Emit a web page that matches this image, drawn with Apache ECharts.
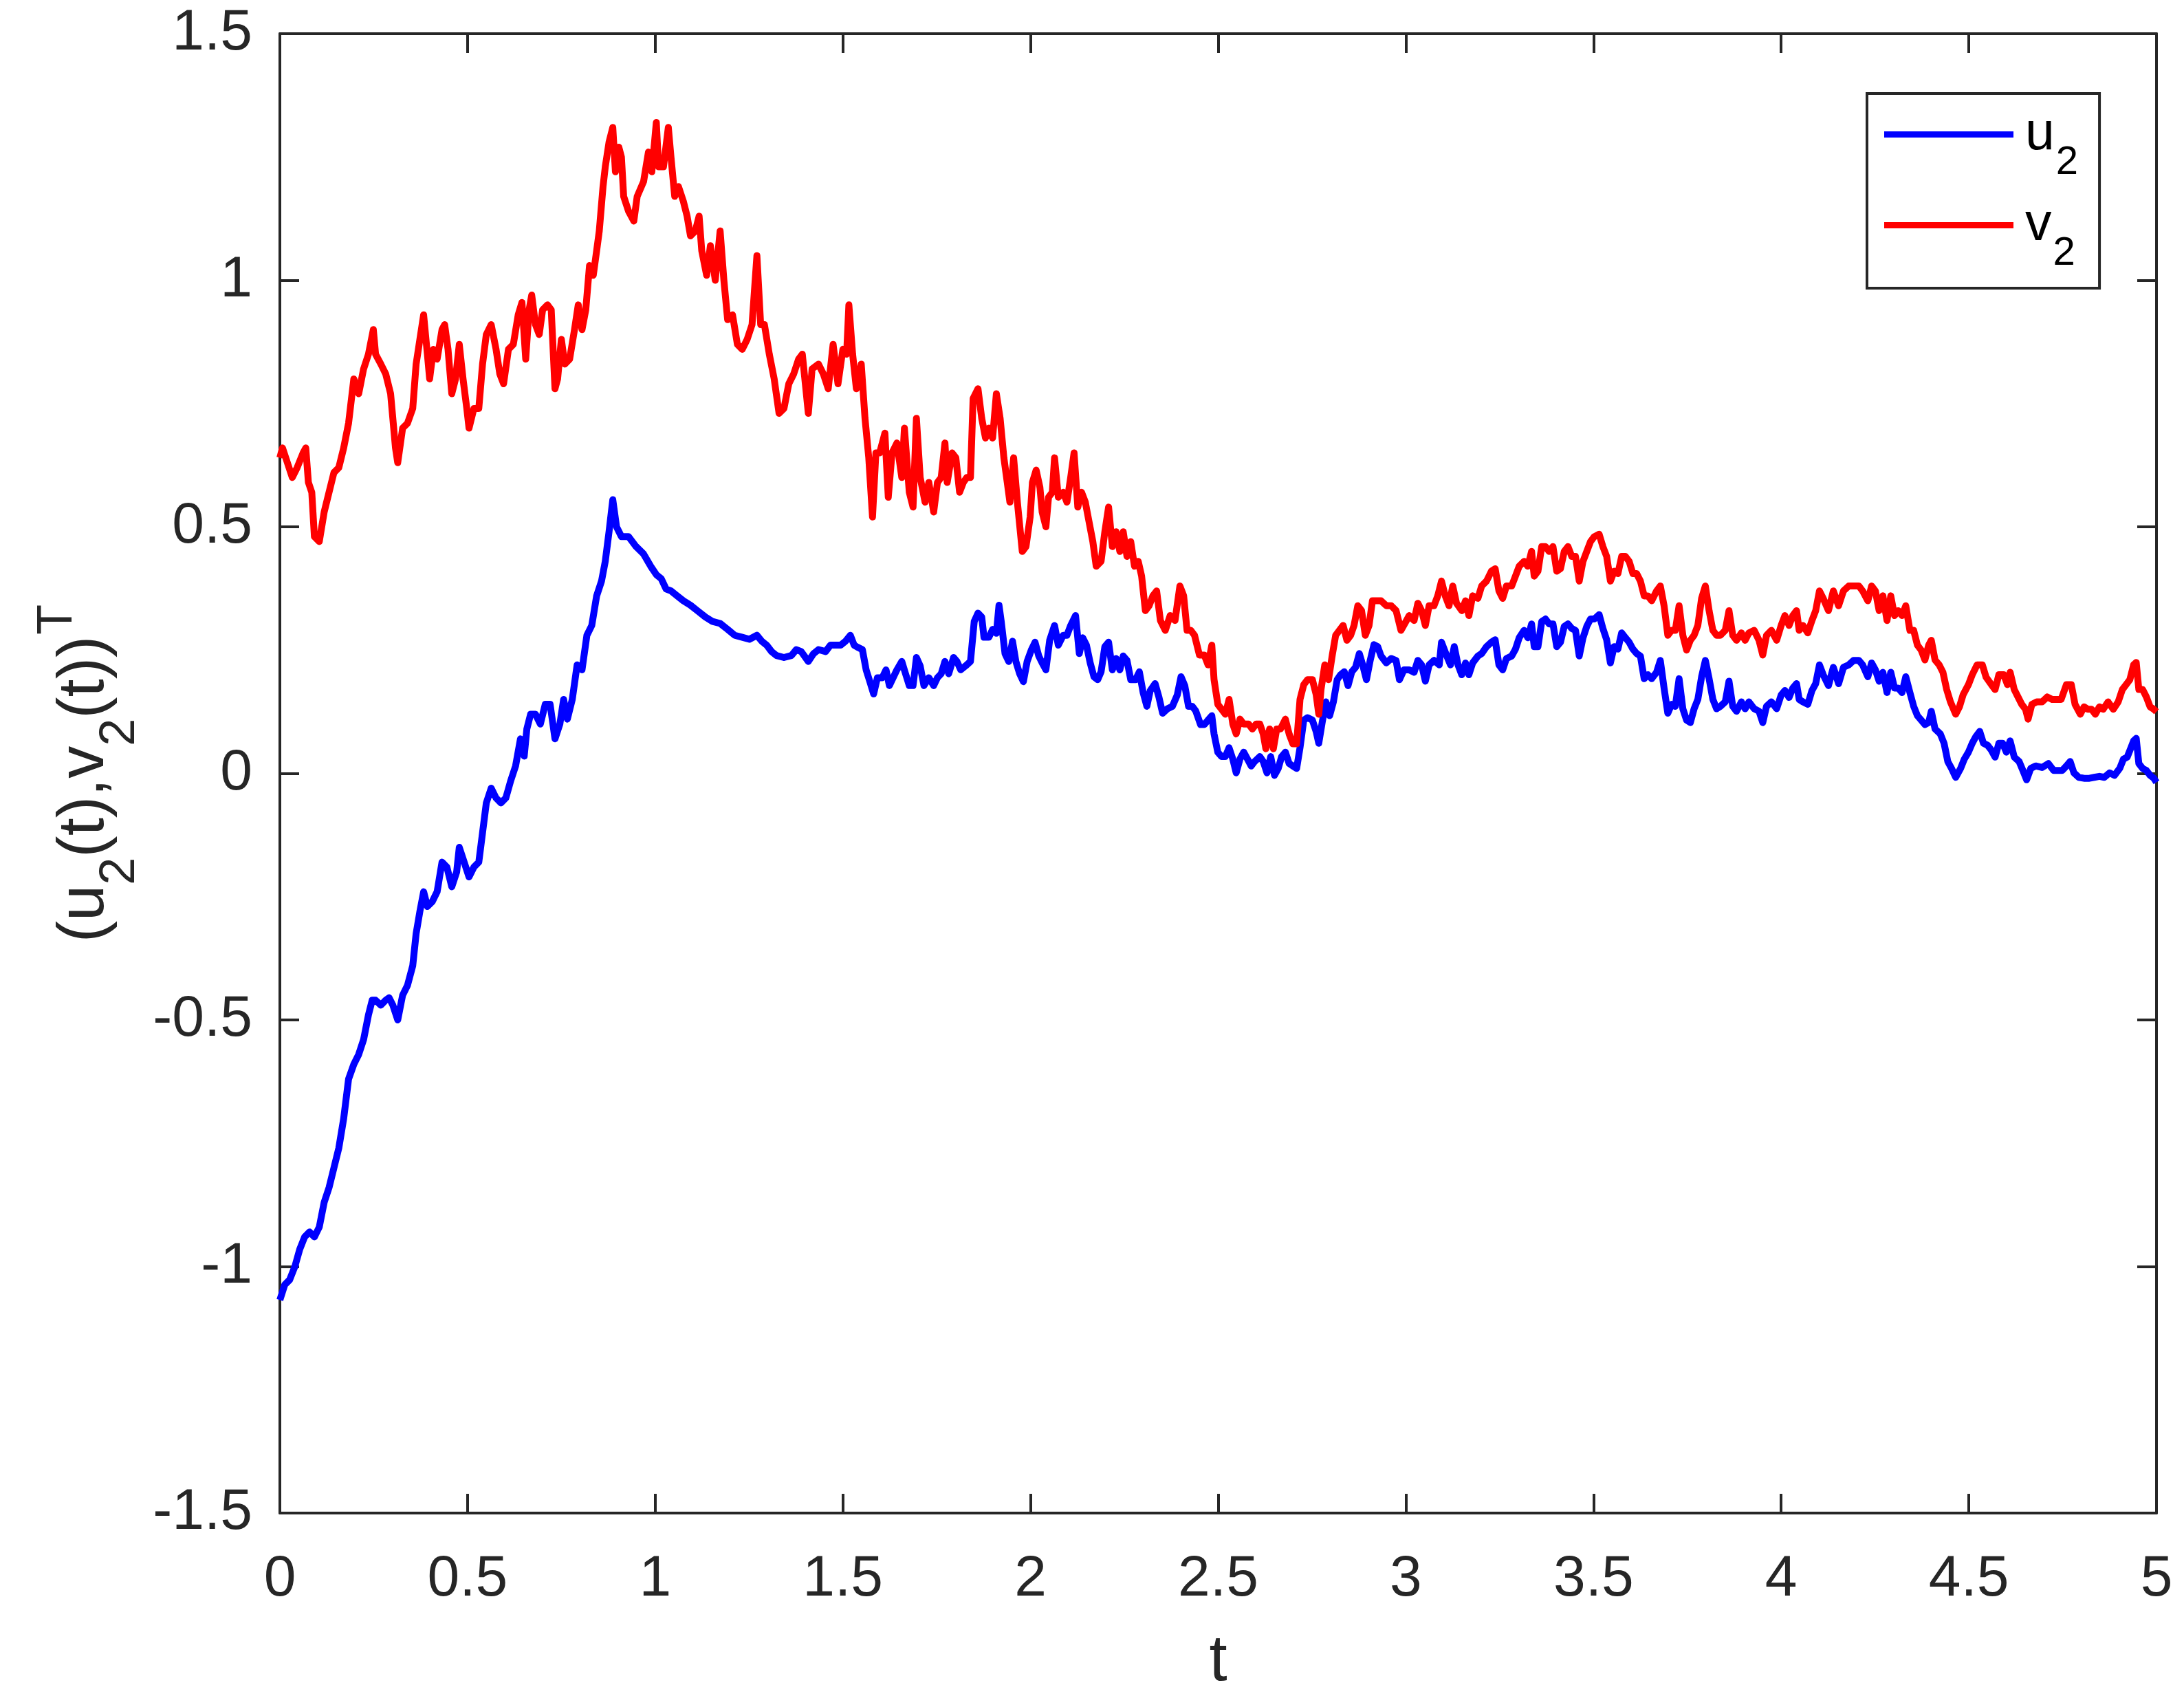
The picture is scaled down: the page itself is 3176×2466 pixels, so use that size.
<!DOCTYPE html>
<html>
<head>
<meta charset="utf-8">
<script src="https://cdn.jsdelivr.net/npm/echarts@6/dist/echarts.min.js"></script>
<style>
  html, body { margin: 0; padding: 0; background: #fff; }
  #chart { width: 3176px; height: 2466px; }
</style>
</head>
<body>
<div id="chart"></div>
<script>
// ---------- DATA ----------
const xTicks = [0, 0.5, 1, 1.5, 2, 2.5, 3, 3.5, 4, 4.5, 5];
const yTicks = [-1.5, -1, -0.5, 0, 0.5, 1, 1.5];
const seriesNames = ['u2', 'v2'];
const legendBase = ['u', 'v'];
const legendSub = ['2', '2'];

// u2(t) : [t, value]
const u2Seg1 = [[0.000,-1.068],[0.013,-1.037],[0.026,-1.027],[0.040,-1.0],[0.053,-0.965],[0.066,-0.94],[0.079,-0.93],[0.092,-0.94],[0.105,-0.92],[0.118,-0.87],[0.131,-0.84],[0.144,-0.80],[0.157,-0.76],[0.170,-0.70],[0.183,-0.62],[0.197,-0.59],[0.210,-0.57],[0.223,-0.54],[0.236,-0.49],[0.246,-0.46],[0.255,-0.46],[0.269,-0.47],[0.282,-0.46],[0.291,-0.455],[0.301,-0.47],[0.314,-0.50],[0.327,-0.45],[0.340,-0.43],[0.354,-0.39],[0.363,-0.325],[0.373,-0.28],[0.383,-0.24],[0.393,-0.27],[0.406,-0.26],[0.419,-0.24],[0.432,-0.18],[0.445,-0.19],[0.458,-0.23],[0.471,-0.20],[0.478,-0.15],[0.491,-0.18],[0.504,-0.21],[0.517,-0.19],[0.530,-0.18],[0.540,-0.12],[0.550,-0.06],[0.563,-0.03],[0.576,-0.05],[0.589,-0.06],[0.602,-0.05],[0.615,-0.015],[0.628,0.015],[0.641,0.07],[0.651,0.035],[0.658,0.09],[0.668,0.12],[0.681,0.12],[0.694,0.10],[0.707,0.14],[0.720,0.14],[0.733,0.07],[0.746,0.10],[0.756,0.15],[0.766,0.11],[0.779,0.15],[0.792,0.22],[0.805,0.21],[0.818,0.28],[0.831,0.30],[0.844,0.36],[0.857,0.39],[0.867,0.43],[0.877,0.49],[0.887,0.555],[0.897,0.50],[0.910,0.48],[0.929,0.48],[0.949,0.46],[0.969,0.445],[0.988,0.42]];
const u2Seg2 = [[1.003,0.403],[1.016,0.395],[1.029,0.374],[1.042,0.37],[1.055,0.362],[1.075,0.35],[1.094,0.341],[1.114,0.329],[1.134,0.317],[1.153,0.308],[1.173,0.304],[1.193,0.292],[1.212,0.28],[1.232,0.276],[1.251,0.272],[1.271,0.28],[1.284,0.268],[1.297,0.26],[1.310,0.247],[1.323,0.239],[1.343,0.235],[1.363,0.239],[1.376,0.251],[1.389,0.247],[1.408,0.227],[1.422,0.243],[1.435,0.251],[1.454,0.247],[1.467,0.26],[1.480,0.26],[1.494,0.26],[1.507,0.268],[1.520,0.28],[1.530,0.26],[1.539,0.256],[1.552,0.251],[1.562,0.21],[1.572,0.186],[1.582,0.161],[1.592,0.194],[1.605,0.194],[1.615,0.21],[1.624,0.178],[1.634,0.194],[1.644,0.21],[1.657,0.227],[1.667,0.202],[1.677,0.178],[1.687,0.178],[1.696,0.235],[1.706,0.218],[1.716,0.178],[1.729,0.194],[1.742,0.178],[1.752,0.194],[1.762,0.202],[1.772,0.227],[1.782,0.202],[1.795,0.235],[1.804,0.227],[1.814,0.21],[1.827,0.218],[1.840,0.227],[1.850,0.308],[1.860,0.325],[1.870,0.317],[1.876,0.276],[1.889,0.276],[1.899,0.292],[1.909,0.284],[1.916,0.341],[1.922,0.308],[1.932,0.243],[1.942,0.227],[1.952,0.268],[1.961,0.227],[1.971,0.202],[1.981,0.186],[1.991,0.227]];
const u2Seg3 = [[2.002,0.25],[2.012,0.266],[2.022,0.238],[2.031,0.224],[2.041,0.21],[2.051,0.27],[2.064,0.30],[2.074,0.26],[2.087,0.28],[2.097,0.28],[2.107,0.30],[2.120,0.32],[2.130,0.243],[2.139,0.275],[2.149,0.26],[2.159,0.224],[2.169,0.196],[2.179,0.19],[2.188,0.206],[2.198,0.257],[2.208,0.266],[2.218,0.21],[2.228,0.233],[2.238,0.21],[2.247,0.238],[2.257,0.229],[2.267,0.19],[2.280,0.19],[2.290,0.206],[2.300,0.164],[2.310,0.136],[2.319,0.168],[2.332,0.182],[2.342,0.155],[2.352,0.122],[2.365,0.131],[2.378,0.136],[2.391,0.159],[2.401,0.196],[2.411,0.178],[2.421,0.136],[2.431,0.136],[2.440,0.127],[2.453,0.099],[2.463,0.099],[2.473,0.108],[2.483,0.117],[2.489,0.08],[2.499,0.043],[2.509,0.034],[2.519,0.034],[2.529,0.052],[2.539,0.029],[2.548,0.001],[2.558,0.029],[2.568,0.043],[2.578,0.029],[2.588,0.015],[2.597,0.024],[2.611,0.034],[2.620,0.024],[2.630,0.001],[2.640,0.034],[2.650,-0.004],[2.660,0.01],[2.669,0.034],[2.679,0.043],[2.689,0.02],[2.699,0.015],[2.709,0.01],[2.718,0.052],[2.728,0.108],[2.738,0.113],[2.751,0.108],[2.761,0.085],[2.768,0.061],[2.777,0.103],[2.787,0.145],[2.797,0.117],[2.807,0.145],[2.817,0.19],[2.826,0.20],[2.836,0.206],[2.846,0.178],[2.856,0.206],[2.866,0.215],[2.876,0.243],[2.885,0.22],[2.895,0.19],[2.905,0.229],[2.915,0.261],[2.925,0.257],[2.934,0.238],[2.948,0.224],[2.961,0.233],[2.974,0.229],[2.983,0.19]];
const u2Seg4 = [[2.995,0.21],[3.009,0.21],[3.022,0.205],[3.032,0.229],[3.042,0.22],[3.052,0.187],[3.062,0.22],[3.075,0.229],[3.089,0.22],[3.095,0.266],[3.109,0.238],[3.119,0.22],[3.129,0.257],[3.139,0.22],[3.149,0.20],[3.159,0.224],[3.168,0.20],[3.178,0.224],[3.192,0.238],[3.202,0.243],[3.215,0.257],[3.228,0.266],[3.238,0.271],[3.248,0.22],[3.258,0.21],[3.268,0.233],[3.282,0.238],[3.292,0.252],[3.302,0.275],[3.315,0.29],[3.325,0.275],[3.335,0.303],[3.342,0.257],[3.352,0.257],[3.362,0.308],[3.372,0.313],[3.382,0.303],[3.392,0.303],[3.402,0.257],[3.412,0.266],[3.422,0.298],[3.432,0.303],[3.442,0.294],[3.452,0.29],[3.462,0.238],[3.472,0.275],[3.482,0.298],[3.492,0.313],[3.502,0.313],[3.515,0.322],[3.525,0.294],[3.535,0.271],[3.545,0.224],[3.555,0.257],[3.565,0.252],[3.575,0.285],[3.585,0.275],[3.595,0.266],[3.605,0.252],[3.615,0.243],[3.625,0.238],[3.635,0.192],[3.645,0.20],[3.655,0.192],[3.668,0.205],[3.678,0.229],[3.688,0.173],[3.698,0.122],[3.708,0.14],[3.718,0.136],[3.728,0.192],[3.738,0.131],[3.748,0.108],[3.758,0.103],[3.768,0.131],[3.778,0.15],[3.788,0.196],[3.798,0.229],[3.808,0.192],[3.818,0.15],[3.828,0.131],[3.838,0.136],[3.851,0.145],[3.861,0.187],[3.871,0.136],[3.881,0.126],[3.894,0.145],[3.904,0.131],[3.914,0.145],[3.928,0.131],[3.941,0.126],[3.951,0.103],[3.961,0.136],[3.974,0.145],[3.988,0.131]];
const u2Seg5 = [[4.000,0.159],[4.010,0.168],[4.021,0.154],[4.031,0.173],[4.041,0.182],[4.048,0.15],[4.058,0.145],[4.071,0.14],[4.082,0.168],[4.092,0.182],[4.102,0.22],[4.112,0.20],[4.126,0.178],[4.139,0.215],[4.153,0.182],[4.166,0.215],[4.180,0.22],[4.193,0.229],[4.207,0.229],[4.217,0.22],[4.231,0.196],[4.241,0.224],[4.251,0.21],[4.261,0.187],[4.271,0.205],[4.282,0.164],[4.292,0.205],[4.302,0.173],[4.312,0.173],[4.322,0.164],[4.332,0.196],[4.343,0.164],[4.353,0.136],[4.363,0.117],[4.373,0.108],[4.383,0.099],[4.393,0.103],[4.400,0.126],[4.410,0.09],[4.424,0.08],[4.434,0.061],[4.444,0.024],[4.454,0.01],[4.465,-0.008],[4.478,0.01],[4.488,0.029],[4.499,0.043],[4.509,0.061],[4.519,0.075],[4.529,0.085],[4.539,0.061],[4.550,0.057],[4.560,0.047],[4.570,0.033],[4.580,0.061],[4.590,0.061],[4.600,0.043],[4.610,0.066],[4.621,0.033],[4.634,0.024],[4.644,0.006],[4.654,-0.013],[4.665,0.01],[4.678,0.015],[4.695,0.012],[4.712,0.02],[4.726,0.006],[4.739,0.006],[4.749,0.006],[4.760,0.015],[4.770,0.024],[4.780,0.001],[4.793,-0.008],[4.807,-0.01],[4.821,-0.01],[4.834,-0.008],[4.848,-0.006],[4.861,-0.008],[4.875,0.001],[4.888,-0.004],[4.902,0.01],[4.912,0.029],[4.922,0.033],[4.932,0.052],[4.939,0.066],[4.946,0.071],[4.953,0.02],[4.963,0.01],[4.973,0.006],[4.983,-0.004],[4.993,-0.01],[5.000,-0.018]];

// v2(t) : [t, value]
const v2Seg1 = [[0.000,0.64],[0.007,0.66],[0.020,0.63],[0.033,0.60],[0.046,0.62],[0.062,0.65],[0.069,0.66],[0.076,0.59],[0.085,0.57],[0.092,0.48],[0.105,0.47],[0.118,0.53],[0.131,0.57],[0.144,0.61],[0.157,0.62],[0.170,0.66],[0.183,0.71],[0.197,0.80],[0.210,0.77],[0.223,0.82],[0.236,0.85],[0.249,0.90],[0.255,0.85],[0.269,0.83],[0.282,0.81],[0.295,0.77],[0.308,0.66],[0.314,0.63],[0.327,0.70],[0.340,0.71],[0.354,0.74],[0.363,0.83],[0.373,0.88],[0.383,0.93],[0.393,0.85],[0.399,0.80],[0.409,0.86],[0.419,0.84],[0.432,0.90],[0.439,0.91],[0.448,0.86],[0.458,0.77],[0.468,0.80],[0.478,0.87],[0.488,0.80],[0.498,0.74],[0.504,0.70],[0.517,0.74],[0.530,0.74],[0.540,0.83],[0.550,0.89],[0.563,0.91],[0.576,0.86],[0.586,0.81],[0.596,0.79],[0.609,0.86],[0.622,0.87],[0.635,0.93],[0.645,0.955],[0.655,0.84],[0.664,0.94],[0.671,0.97],[0.681,0.91],[0.691,0.89],[0.700,0.94],[0.713,0.95],[0.723,0.94],[0.733,0.78],[0.740,0.80],[0.750,0.88],[0.759,0.83],[0.772,0.84],[0.785,0.90],[0.795,0.95],[0.805,0.90],[0.815,0.94],[0.825,1.03],[0.835,1.01],[0.844,1.06],[0.851,1.10],[0.861,1.19],[0.867,1.23],[0.877,1.28],[0.887,1.31],[0.894,1.22],[0.903,1.27],[0.910,1.25],[0.916,1.17],[0.929,1.14],[0.943,1.12],[0.952,1.17],[0.969,1.20],[0.982,1.26],[0.991,1.22]];
const v2Seg2 = [[1.003,1.32],[1.009,1.23],[1.022,1.23],[1.035,1.31],[1.042,1.25],[1.052,1.17],[1.062,1.19],[1.075,1.16],[1.085,1.13],[1.094,1.09],[1.107,1.10],[1.117,1.13],[1.124,1.06],[1.137,1.01],[1.147,1.07],[1.160,1.00],[1.173,1.10],[1.183,1.00],[1.193,0.92],[1.206,0.93],[1.219,0.87],[1.232,0.86],[1.245,0.88],[1.258,0.91],[1.271,1.05],[1.281,0.91],[1.291,0.91],[1.304,0.85],[1.317,0.80],[1.330,0.73],[1.343,0.74],[1.356,0.79],[1.369,0.81],[1.382,0.84],[1.392,0.85],[1.408,0.73],[1.418,0.82],[1.435,0.83],[1.448,0.81],[1.461,0.78],[1.474,0.87],[1.487,0.79],[1.500,0.86],[1.510,0.85],[1.516,0.95],[1.526,0.85],[1.536,0.78],[1.549,0.83],[1.559,0.72],[1.569,0.64],[1.579,0.52],[1.588,0.65],[1.598,0.65],[1.612,0.69],[1.621,0.56],[1.631,0.65],[1.644,0.67],[1.657,0.60],[1.664,0.70],[1.677,0.57],[1.687,0.54],[1.696,0.72],[1.706,0.60],[1.719,0.55],[1.729,0.59],[1.742,0.53],[1.752,0.59],[1.762,0.60],[1.772,0.67],[1.778,0.59],[1.791,0.65],[1.801,0.64],[1.811,0.57],[1.821,0.59],[1.830,0.60],[1.840,0.60],[1.847,0.76],[1.860,0.78],[1.870,0.72],[1.880,0.68],[1.889,0.70],[1.899,0.68],[1.909,0.77],[1.919,0.72],[1.929,0.64],[1.938,0.59],[1.945,0.55],[1.955,0.64],[1.965,0.55],[1.978,0.45],[1.988,0.46]];
const v2Seg3 = [[1.999,0.52],[2.005,0.59],[2.015,0.615],[2.025,0.58],[2.031,0.53],[2.041,0.50],[2.048,0.56],[2.058,0.57],[2.064,0.64],[2.074,0.56],[2.087,0.57],[2.097,0.55],[2.107,0.60],[2.116,0.65],[2.126,0.54],[2.136,0.57],[2.146,0.55],[2.156,0.51],[2.166,0.47],[2.175,0.42],[2.188,0.43],[2.198,0.49],[2.208,0.54],[2.218,0.46],[2.228,0.49],[2.238,0.45],[2.247,0.49],[2.257,0.44],[2.267,0.47],[2.277,0.42],[2.287,0.43],[2.296,0.40],[2.306,0.33],[2.316,0.34],[2.326,0.36],[2.336,0.37],[2.346,0.31],[2.359,0.29],[2.372,0.32],[2.385,0.31],[2.398,0.38],[2.408,0.36],[2.417,0.29],[2.427,0.29],[2.437,0.28],[2.450,0.24],[2.463,0.24],[2.473,0.22],[2.483,0.26],[2.489,0.19],[2.499,0.14],[2.509,0.13],[2.519,0.12],[2.529,0.15],[2.539,0.10],[2.548,0.08],[2.558,0.11],[2.568,0.10],[2.581,0.10],[2.591,0.09],[2.601,0.10],[2.611,0.10],[2.620,0.08],[2.627,0.05],[2.637,0.09],[2.647,0.05],[2.656,0.09],[2.666,0.09],[2.679,0.11],[2.689,0.08],[2.699,0.06],[2.709,0.06],[2.718,0.15],[2.728,0.18],[2.738,0.19],[2.751,0.19],[2.761,0.16],[2.768,0.12],[2.774,0.17],[2.784,0.22],[2.794,0.19],[2.804,0.24],[2.813,0.28],[2.823,0.29],[2.833,0.30],[2.843,0.27],[2.853,0.28],[2.862,0.30],[2.872,0.34],[2.882,0.33],[2.892,0.28],[2.902,0.30],[2.911,0.35],[2.921,0.35],[2.934,0.35],[2.948,0.34],[2.961,0.34],[2.974,0.33],[2.987,0.29]];
const v2Seg4 = [[3.009,0.32],[3.022,0.31],[3.032,0.345],[3.042,0.33],[3.052,0.30],[3.062,0.34],[3.075,0.34],[3.085,0.36],[3.095,0.39],[3.105,0.36],[3.115,0.34],[3.125,0.38],[3.135,0.345],[3.149,0.33],[3.159,0.35],[3.168,0.32],[3.178,0.36],[3.192,0.355],[3.202,0.38],[3.215,0.39],[3.228,0.41],[3.238,0.415],[3.248,0.37],[3.258,0.355],[3.268,0.38],[3.282,0.38],[3.292,0.40],[3.302,0.42],[3.315,0.43],[3.325,0.42],[3.335,0.45],[3.342,0.40],[3.352,0.41],[3.362,0.46],[3.372,0.46],[3.382,0.45],[3.392,0.46],[3.402,0.41],[3.412,0.415],[3.422,0.45],[3.432,0.46],[3.442,0.44],[3.452,0.44],[3.462,0.39],[3.472,0.43],[3.482,0.45],[3.492,0.47],[3.502,0.48],[3.515,0.485],[3.525,0.46],[3.535,0.44],[3.545,0.39],[3.555,0.41],[3.565,0.405],[3.575,0.44],[3.585,0.44],[3.595,0.43],[3.605,0.405],[3.615,0.405],[3.625,0.39],[3.635,0.36],[3.645,0.36],[3.655,0.35],[3.668,0.37],[3.678,0.38],[3.688,0.34],[3.698,0.28],[3.708,0.29],[3.718,0.29],[3.728,0.34],[3.738,0.28],[3.748,0.25],[3.758,0.27],[3.768,0.28],[3.778,0.30],[3.788,0.355],[3.798,0.38],[3.808,0.33],[3.818,0.29],[3.828,0.28],[3.838,0.28],[3.851,0.29],[3.861,0.33],[3.871,0.28],[3.881,0.27],[3.894,0.285],[3.904,0.27],[3.914,0.285],[3.928,0.29],[3.941,0.27],[3.951,0.24],[3.961,0.28],[3.974,0.29],[3.988,0.27]];
const v2Seg5 = [[4.000,0.30],[4.010,0.32],[4.021,0.30],[4.031,0.32],[4.041,0.33],[4.048,0.29],[4.058,0.30],[4.071,0.285],[4.082,0.31],[4.092,0.33],[4.102,0.37],[4.112,0.355],[4.126,0.33],[4.139,0.37],[4.153,0.34],[4.166,0.37],[4.180,0.38],[4.193,0.38],[4.207,0.38],[4.217,0.37],[4.231,0.35],[4.241,0.38],[4.251,0.37],[4.261,0.33],[4.271,0.36],[4.282,0.31],[4.292,0.36],[4.302,0.32],[4.312,0.33],[4.322,0.32],[4.332,0.34],[4.343,0.29],[4.353,0.29],[4.363,0.26],[4.373,0.25],[4.383,0.23],[4.393,0.26],[4.400,0.27],[4.410,0.23],[4.421,0.22],[4.431,0.205],[4.441,0.17],[4.451,0.145],[4.465,0.12],[4.475,0.135],[4.485,0.16],[4.499,0.18],[4.509,0.20],[4.522,0.22],[4.536,0.22],[4.546,0.195],[4.560,0.18],[4.570,0.17],[4.580,0.20],[4.593,0.20],[4.603,0.18],[4.610,0.205],[4.621,0.17],[4.631,0.155],[4.641,0.14],[4.651,0.13],[4.658,0.11],[4.668,0.14],[4.681,0.145],[4.695,0.145],[4.709,0.155],[4.722,0.15],[4.736,0.15],[4.746,0.15],[4.760,0.18],[4.773,0.18],[4.783,0.14],[4.797,0.12],[4.807,0.135],[4.817,0.13],[4.827,0.13],[4.837,0.12],[4.848,0.135],[4.858,0.13],[4.871,0.145],[4.885,0.13],[4.898,0.145],[4.909,0.17],[4.919,0.18],[4.929,0.19],[4.939,0.22],[4.946,0.225],[4.953,0.17],[4.963,0.17],[4.973,0.155],[4.983,0.135],[4.993,0.13],[5.000,0.125]];

const u2Data = [].concat(u2Seg1, u2Seg2, u2Seg3, u2Seg4, u2Seg5);
const v2Data = [].concat(v2Seg1, v2Seg2, v2Seg3, v2Seg4, v2Seg5);

// ---------- STYLE ----------
const FONT = '"Liberation Sans", Arial, Helvetica, sans-serif';
const AX = '#262626';

function axisBase(extra) {
  return Object.assign({
    type: 'value',
    axisLine: { show: true, onZero: false, lineStyle: { color: AX, width: 4 } },
    axisTick: { show: true, inside: true, length: 28, lineStyle: { color: AX, width: 4 } },
    splitLine: { show: false },
    axisLabel: { show: false }
  }, extra);
}

const chart = echarts.init(document.getElementById('chart'), null, { renderer: 'canvas', devicePixelRatio: 1 });

const option = {
  animation: false,
  backgroundColor: '#ffffff',
  grid: { left: 407, top: 49, width: 2729, height: 2151, outerBoundsMode: 'none', containLabel: false },
  legend: {
    orient: 'vertical',
    left: 2715,
    top: 136,
    padding: [21, 31, 21, 25],
    itemGap: 23,
    itemWidth: 188,
    itemHeight: 9,
    icon: 'rect',
    backgroundColor: '#ffffff',
    borderColor: AX,
    borderWidth: 4,
    borderRadius: 0,
    data: seriesNames,
    formatter: function (name) {
      const i = seriesNames.indexOf(name);
      return '{b|' + legendBase[i] + '}{s|' + legendSub[i] + '}';
    },
    textStyle: {
      fontFamily: FONT,
      color: '#000',
      rich: {
        b: { fontFamily: FONT, color: '#000', fontSize: 77, lineHeight: 77, verticalAlign: 'top', padding: [0, 0, 0, 12] },
        s: { fontFamily: FONT, color: '#000', fontSize: 58, lineHeight: 58, verticalAlign: 'top', padding: [51, 0, 0, 2] }
      }
    }
  },
  xAxis: [
    axisBase({
      position: 'bottom',
      min: xTicks[0], max: xTicks[xTicks.length - 1], interval: 0.5,
      axisLabel: { show: true, margin: 55, fontSize: 84, fontFamily: FONT, color: AX },
      name: 't',
      nameLocation: 'middle',
      nameGap: 170,
      nameTextStyle: { fontFamily: FONT, fontSize: 94, lineHeight: 94, color: AX }
    }),
    axisBase({
      position: 'top',
      min: xTicks[0], max: xTicks[xTicks.length - 1], interval: 0.5
    })
  ],
  yAxis: [
    axisBase({
      position: 'left',
      min: yTicks[0], max: yTicks[yTicks.length - 1], interval: 0.5,
      axisLabel: { show: true, margin: 40, fontSize: 84, fontFamily: FONT, color: AX, padding: [12, 0, 0, 0] },
      name: '{b|(u}{s|2}{b|(t),v}{s|2}{b|(t))}{p|T}',
      nameLocation: 'middle',
      nameRotate: 90,
      nameGap: 220,
      nameTextStyle: {
        fontFamily: FONT, color: AX, fontSize: 94,
        rich: {
          b: { fontFamily: FONT, color: AX, fontSize: 94, lineHeight: 94, verticalAlign: 'top', padding: [29, 0, 0, 0] },
          s: { fontFamily: FONT, color: AX, fontSize: 72, lineHeight: 72, verticalAlign: 'top', padding: [91, 0, 0, 0] },
          p: { fontFamily: FONT, color: AX, fontSize: 72, lineHeight: 72, verticalAlign: 'top', padding: [0, 0, 0, 2] }
        }
      }
    }),
    axisBase({
      position: 'right',
      min: yTicks[0], max: yTicks[yTicks.length - 1], interval: 0.5
    })
  ],
  series: [
    {
      name: seriesNames[0],
      type: 'line',
      data: u2Data,
      showSymbol: false,
      symbol: 'none',
      color: '#0000ff',
      lineStyle: { color: '#0000ff', width: 10, join: 'round' },
      clip: true,
      z: 2
    },
    {
      name: seriesNames[1],
      type: 'line',
      data: v2Data,
      showSymbol: false,
      symbol: 'none',
      color: '#ff0000',
      lineStyle: { color: '#ff0000', width: 10, join: 'round' },
      clip: true,
      z: 3
    }
  ]
};

chart.setOption(option);
</script>
</body>
</html>
